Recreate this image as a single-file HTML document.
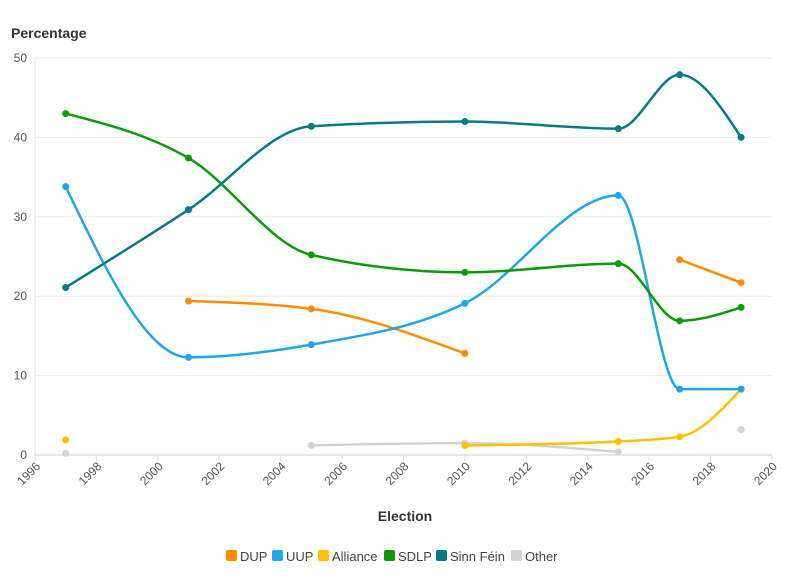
<!DOCTYPE html>
<html><head><meta charset="utf-8"><style>
body{margin:0;background:#fff;font-family:"Liberation Sans",sans-serif}
text{font-family:"Liberation Sans",sans-serif}
</style></head><body>
<svg id="s" width="796" height="575" xmlns="http://www.w3.org/2000/svg">
<text x="11" y="38" font-size="14" font-weight="bold" fill="#333">Percentage</text>
<g id="grid"></g>
<g id="lines" fill="none" stroke-width="2.5"></g>
<g id="pts"></g>
<text x="405" y="521" font-size="14" font-weight="bold" fill="#333" text-anchor="middle">Election</text>
<g font-size="13" fill="#444">
<rect x="226" y="550" width="11" height="11" rx="2" fill="#ff8c00"/><text x="240" y="561">DUP</text>
<rect x="272" y="550" width="11" height="11" rx="2" fill="#1ea7e8"/><text x="286" y="561">UUP</text>
<rect x="318" y="550" width="11" height="11" rx="2" fill="#ffc000"/><text x="332" y="561">Alliance</text>
<rect x="384" y="550" width="11" height="11" rx="2" fill="#0a9a0a"/><text x="398" y="561">SDLP</text>
<rect x="436" y="550" width="11" height="11" rx="2" fill="#077a8a"/><text x="450" y="561">Sinn Féin</text>
<rect x="511" y="550" width="11" height="11" rx="2" fill="#d3d3d3"/><text x="525" y="561">Other</text>
</g>
</svg>
<script>
const NS="http://www.w3.org/2000/svg";
const X=y=>35+(y-1996)*30.7, Y=v=>455-v*7.94;
const g=document.getElementById('grid'),L=document.getElementById('lines'),P=document.getElementById('pts');
function el(t,a,p){const e=document.createElementNS(NS,t);for(const k in a)e.setAttribute(k,a[k]);if(a.txt){e.textContent=a.txt;e.removeAttribute('txt')}p.appendChild(e);return e}
for(let v=0;v<=50;v+=10){el('line',{x1:35,x2:772,y1:Y(v),y2:Y(v),stroke:v?'#ececec':'#e0e0e0','stroke-width':v?1:1.5},g);
el('text',{x:27,y:Y(v)+4,'font-size':12,fill:'#555','text-anchor':'end',txt:String(v)},g)}
el('line',{x1:35,x2:35,y1:58,y2:455,stroke:'#e8e8e8'},g);
for(let yr=1996;yr<=2020;yr+=2){const x=X(yr);el('line',{x1:x,x2:x,y1:455,y2:461,stroke:'#ddd'},g);
el('text',{x:x+6,y:467,'font-size':12,fill:'#555','text-anchor':'end',transform:`rotate(-45 ${x+6} 467)`,txt:String(yr)},g)}
function mono(pts){const n=pts.length;if(n<2)return'';const x=pts.map(p=>p[0]),y=pts.map(p=>p[1]);
const s=[],m=[];for(let i=0;i<n-1;i++)s.push((y[i+1]-y[i])/(x[i+1]-x[i]));
for(let i=0;i<n;i++){if(i==0||i==n-1)continue;const h0=x[i]-x[i-1],h1=x[i+1]-x[i],p=(s[i-1]*h1+s[i]*h0)/(h0+h1);
m[i]=(Math.sign(s[i-1])+Math.sign(s[i]))*Math.min(Math.abs(s[i-1]),Math.abs(s[i]),0.5*Math.abs(p))||0}
if(n==2){m[0]=m[1]=s[0]}else{const h=x[1]-x[0];m[0]=(3*(y[1]-y[0])/h-m[1])/2;const h2=x[n-1]-x[n-2];m[n-1]=(3*(y[n-1]-y[n-2])/h2-m[n-2])/2}
let d=`M${x[0]},${y[0]}`;for(let i=0;i<n-1;i++){const dx=(x[i+1]-x[i])/3;d+=`C${x[i]+dx},${y[i]+m[i]*dx} ${x[i+1]-dx},${y[i+1]-m[i+1]*dx} ${x[i+1]},${y[i+1]}`}return d}
const S=[
['#d3d3d3',[[[1997,0.2]],[[2005,1.2],[2010,1.5],[2015,0.4]],[[2019,3.2]]]],
['#ffc000',[[[1997,1.9]],[[2010,1.2],[2015,1.7],[2017,2.3],[2019,8.3]]]],
['#ff8c00',[[[2001,19.4],[2005,18.4],[2010,12.8]],[[2017,24.6],[2019,21.7]]]],
['#1ea7e8',[[[1997,33.8],[2001,12.3],[2005,13.9],[2010,19.1],[2015,32.7],[2017,8.3],[2019,8.3]]]],
['#0a9a0a',[[[1997,43],[2001,37.4],[2005,25.2],[2010,23],[2015,24.1],[2017,16.9],[2019,18.6]]]],
['#077a8a',[[[1997,21.1],[2001,30.9],[2005,41.4],[2010,42],[2015,41.1],[2017,47.9],[2019,40]]]]];
for(const [c,segs] of S)for(const seg of segs){const p=seg.map(a=>[X(a[0]),Y(a[1])]);
if(p.length>1)el('path',{d:mono(p),stroke:c},L);
for(const q of p)el('circle',{cx:q[0],cy:q[1],r:3.5,fill:c},P)}
</script>
</body></html>
